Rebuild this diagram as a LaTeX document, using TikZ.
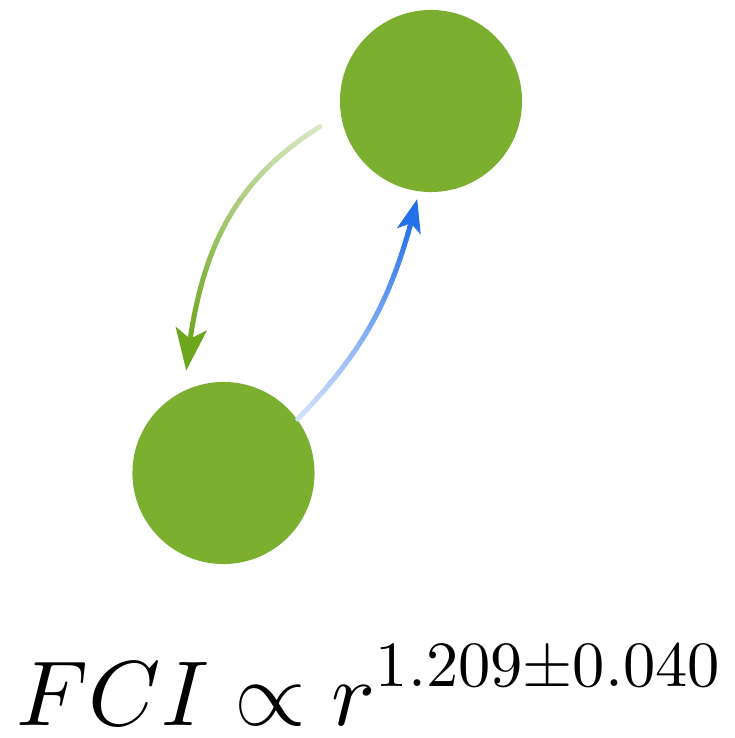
\documentclass[tikz,border=0pt]{standalone}
\usepackage{amsmath}
\usepackage{amssymb}
\usepackage{graphicx}
\usepackage{xcolor}
\usetikzlibrary{calc, arrows.meta}

\definecolor{leafgreen}{RGB}{123,175,47}
\definecolor{arrowgreen}{RGB}{108,166,28}
\definecolor{arrowblue}{RGB}{35,112,232}

\begin{document}
\begin{tikzpicture}[x=0.01cm, y=0.01cm,
    dot/.style={circle, fill=leafgreen, minimum size=1.82cm, inner sep=0pt},
    trail/.style={line width=0.05cm, line cap=round}]
    \useasboundingbox (0,0) rectangle (735,738);

    \node[dot] (upper) at (431,637) {};
    \node[dot] (lower) at (223.5,265) {};

    \coordinate (gs) at ($(upper)+(193:114)$);
    \coordinate (ge) at ($(lower)+(110:109)$);
    \coordinate (bs) at (lower.36);
    \coordinate (be) at ($(upper)+(262:99)$);

    % sample points along both curves
    \path (gs) .. controls ($(gs)+(212:110)$) and ($(ge)+(84:110)$) .. (ge)
        foreach \i in {0,...,40} {coordinate[pos=\i/40] (g\i)};
    \path (bs) .. controls ($(bs)+(46:100)$) and ($(be)+(256:100)$) .. (be)
        foreach \i in {0,...,40} {coordinate[pos=\i/40] (b\i)};

    \foreach \i in {1,...,38}{
        \pgfmathtruncatemacro\j{\i-1}
        \pgfmathtruncatemacro\pct{25+75*\i/38}
        \draw[trail, arrowgreen!\pct!white] (g\j) -- (g\i);
        \pgfmathtruncatemacro\pct{18+82*\i/38}
        \draw[trail, arrowblue!\pct!white] (b\j) -- (b\i);
    }
    \draw[trail, arrowgreen, -{Stealth[length=0.42cm, width=0.31cm, inset=0.1cm]}] (g37) -- (g40);
    \draw[trail, arrowblue, -{Stealth[length=0.33cm, width=0.24cm, inset=0.08cm]}] (b37) -- (b40);

    \node[anchor=base west, inner sep=0pt] (law) at (16,13)
        {\scalebox{2.62}{$\displaystyle FCI \propto r^{\scalebox{0.7}{$1.209{\pm}0.040$}}$}};
\end{tikzpicture}
\end{document}
